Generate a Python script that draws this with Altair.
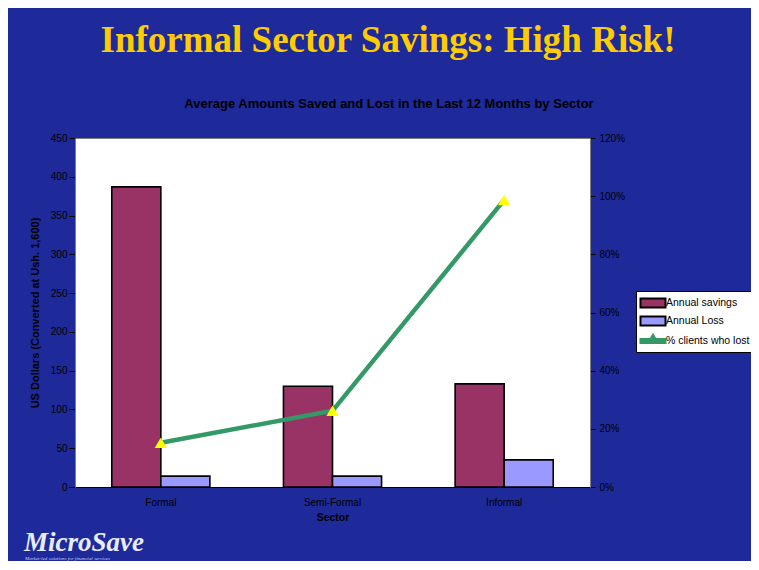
import altair as alt
import pandas as pd

# ---- data ----
sectors = ["Formal", "Semi-Formal", "Informal"]
annual_savings = [387, 130, 133]
annual_loss = [14, 14, 35]
pct_clients_lost = [0.152, 0.262, 0.987]
series_names = ["Annual savings", "Annual Loss", "% clients who lost"]
left_ticks = [0, 50, 100, 150, 200, 250, 300, 350, 400, 450]
right_ticks = [0, 0.2, 0.4, 0.6, 0.8, 1.0, 1.2]

main_title = "Informal Sector Savings: High Risk!"
sub_title = "Average Amounts Saved and Lost in the Last 12 Months by Sector"
logo_text = "MicroSave"
logo_tagline = "Market-led solutions for financial services"

bars_df = pd.DataFrame({
    "sector": sectors * 2,
    "series": [series_names[0]] * 3 + [series_names[1]] * 3,
    "value": annual_savings + annual_loss,
})
line_df = pd.DataFrame({"sector": sectors, "pct": pct_clients_lost})

W, H = 515, 349
BG = "#1E2A99"
FONT = "Liberation Sans"

RECT = "M-1.786,-0.64H1.786V0.64H-1.786Z"
LINESYM = "M-1.786,-0.29H1.786V0.29H-1.786Z M-0.71,0.29L0,-0.9L0.71,0.29Z"
is_line = "datum.value === '% clients who lost'"

x_enc = alt.X(
    "sector:N", sort=sectors,
    scale=alt.Scale(paddingInner=0, paddingOuter=0),
    axis=alt.Axis(title="Sector", labelAngle=0, ticks=False, labelPadding=10,
                  titlePadding=5, titleFontWeight="bold", titleFontSize=10.5,
                  domainColor="#000000"),
)

legend = alt.Legend(
    title=None, orient="none", legendX=561, legendY=153,
    fillColor="white", strokeColor="black", padding=4, rowPadding=0,
    symbolSize=196, symbolOffset=5,
    symbolType=alt.ExprRef(expr=f"{is_line} ? '{LINESYM}' : '{RECT}'"),
    symbolStrokeColor=alt.ExprRef(expr=f"{is_line} ? '#339966' : '#000000'"),
    symbolStrokeWidth=2,
    labelFont=FONT, labelFontSize=10.5, labelColor="#000000", labelOffset=5,
)

bars = alt.Chart(bars_df).mark_bar(stroke="black", strokeWidth=1.6).encode(
    x=x_enc,
    xOffset=alt.XOffset("series:N", sort=series_names[:2],
                        scale=alt.Scale(domain=series_names[:2], paddingInner=0, paddingOuter=0.75)),
    y=alt.Y("value:Q", scale=alt.Scale(domain=[0, 450], nice=False),
            axis=alt.Axis(values=left_ticks, grid=False, tickSize=6, labelPadding=2,
                          title="US Dollars (Converted at Ush. 1,600)",
                          titleFontSize=11, titleFontWeight="bold", titlePadding=10,
                          domainColor="#808080")),
    color=alt.Color("series:N",
                    scale=alt.Scale(domain=series_names, range=["#993366", "#9999FF", "#339966"]),
                    legend=legend),
)

def text_layer(txt, x, y, **kw):
    return alt.Chart(pd.DataFrame({"t": [txt]})).mark_text(**kw).encode(
        text="t:N", x=alt.value(x), y=alt.value(y))

t_main = text_layer(main_title, 313, -86, font="Liberation Serif", fontSize=37,
                    fontWeight="bold", color="#FFCC00", align="center", baseline="alphabetic")
t_sub = text_layer(sub_title, 314, -30, font=FONT, fontSize=13, fontWeight="bold",
                   color="#000000", align="center", baseline="alphabetic")
t_logo = text_layer(logo_text, -51, 413, font="Liberation Serif", fontSize=27,
                    fontWeight="bold", fontStyle="italic", color="#E8ECFF",
                    align="left", baseline="alphabetic")
t_tag = text_layer(logo_tagline, -50, 422, font="Liberation Serif", fontSize=5,
                   fontStyle="italic", color="#C8CCF0", align="left", baseline="alphabetic")

left = alt.layer(bars, t_main, t_sub, t_logo, t_tag)

y2 = alt.Y("pct:Q", scale=alt.Scale(domain=[0, 1.2], nice=False),
           axis=alt.Axis(orient="right", values=right_ticks, format=".0%", grid=False,
                         tickSize=5, labelPadding=4, title=None, domainColor="#808080"))

line = alt.Chart(line_df).mark_line(color="#339966", strokeWidth=4.5).encode(
    x=alt.X("sector:N", sort=sectors), y=y2)
points = alt.Chart(line_df).mark_point(shape="triangle-up", filled=True, color="#FFFF00",
                                       size=150, opacity=1).encode(
    x=alt.X("sector:N", sort=sectors), y=y2)
right = alt.layer(line, points)

chart = alt.layer(left, right).resolve_scale(y="independent").properties(
    width=W, height=H,
    background=BG,
    padding={"left": 67, "top": 130, "right": 161, "bottom": 74},
    autosize=alt.AutoSizeParams(type="none"),
).configure_view(
    fill="white", stroke="#808080", strokeWidth=1,
).configure_axis(
    labelFont=FONT, labelFontSize=10, labelColor="#000000",
    titleFont=FONT, titleColor="#000000",
    tickColor="#000000",
)

chart.save("out.html", embed_options={"renderer": "svg", "actions": False})
